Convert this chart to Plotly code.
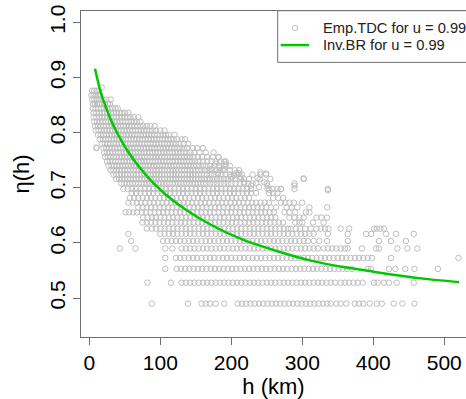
import plotly.graph_objects as go

# ---------------- data ----------------
# Empirical tail dependence coefficient: rows of points at (quantised) eta levels, h in km
emp_levels = [0.882, 0.876, 0.868, 0.860, 0.852, 0.844, 0.836, 0.828, 0.820, 0.812,
              0.804, 0.796, 0.788, 0.780, 0.772, 0.764, 0.756, 0.748, 0.740, 0.732,
              0.724, 0.716, 0.708, 0.698, 0.6906, 0.6817, 0.673, 0.6645, 0.6556, 0.646,
              0.637, 0.626, 0.6165, 0.6036, 0.590, 0.5728, 0.553, 0.528, 0.490]

h_0882 = [17.5]
h_0876 = [4, 7, 10, 13]
h_0868 = [3, 6, 9, 12, 15]
h_0860 = [4, 7, 10, 13, 16, 20, 24, 30]
h_0852 = [5, 8, 11, 14, 18, 22, 26, 29]
h_0844 = [5, 9, 13, 17, 21, 25, 29, 33, 37, 40]
h_0836 = [6, 10, 14, 18, 22, 26, 30, 34, 38, 42, 46, 50, 55]
h_0828 = [6, 10, 14, 18, 22, 26, 30, 34, 38, 42, 46, 50, 54, 58, 63, 69]
h_0820 = [7, 11, 15, 19, 23, 27, 31, 35, 39, 43, 47, 51, 55, 59, 63, 67, 72]
h_0812 = [8, 12, 16, 20, 24, 28, 32, 36, 40, 44, 48, 52, 56, 60, 64, 68, 72, 76, 81, 86, 92]
h_0804 = [9, 13, 17, 21, 25, 29, 33, 37, 41, 45, 49, 53, 57, 61, 65, 69, 73, 77, 81, 85,
          89, 94, 100, 106]
h_0796 = [12, 16, 20, 24, 28, 32, 36, 40, 44, 48, 52, 56, 60, 64, 68, 72, 76, 80, 84, 88,
          92, 96, 100, 104, 108, 112, 120]
h_0788 = [15, 19, 23, 27, 31, 35, 39, 43, 47, 51, 55, 59, 63, 67, 71, 75, 79, 83, 87, 91,
          95, 99, 103, 107, 111, 115, 119, 124, 130, 135]
h_0780 = [18, 22, 26, 30, 34, 38, 42, 46, 50, 54, 58, 62, 66, 70, 74, 78, 82, 86, 90, 94,
          98, 102, 106, 110, 114, 118, 122, 127, 133, 139]
h_0772 = [10, 20, 24, 28, 32, 36, 40, 44, 48, 52, 56, 60, 64, 68, 72, 76, 80, 84, 88, 92,
          96, 100, 104, 108, 112, 116, 120, 124, 128, 133, 138, 146, 152, 160]
h_0764 = [21, 25, 29, 33, 37, 41, 45, 49, 53, 57, 61, 65, 69, 73, 77, 81, 85, 89, 93, 97,
          101, 105, 109, 113, 117, 121, 125, 129, 133, 137, 142, 148, 155, 164, 175]
h_0756 = [22, 26, 30, 34, 38, 42, 46, 50, 54, 58, 62, 66, 70, 74, 78, 82, 86, 90, 94, 98,
          102, 106, 110, 114, 118, 122, 126, 130, 134, 138, 142, 147, 153, 159, 166, 174, 182]
h_0748 = [25, 29, 33, 37, 41, 45, 49, 53, 57, 61, 65, 69, 73, 77, 81, 85, 89, 93, 97, 101,
          105, 109, 113, 117, 121, 125, 129, 133, 137, 141, 145, 149, 154, 160, 166, 172, 178,
          185, 192]
h_0740 = [27, 31, 35, 39, 43, 47, 51, 55, 59, 63, 67, 71, 75, 79, 83, 87, 91, 95, 99, 103,
          107, 111, 115, 119, 123, 127, 131, 135, 139, 143, 147, 151, 155, 160, 165, 170, 176,
          183, 190, 198]
h_0732 = [30, 34, 38, 42, 46, 50, 54, 58, 62, 66, 70, 74, 78, 82, 86, 90, 94, 98, 102, 106,
          110, 114, 118, 122, 126, 130, 134, 138, 142, 146, 150, 154, 158, 163, 168, 173, 178,
          184, 190, 198, 205, 211]
h_0724 = [34, 38, 42, 46, 50, 54, 58, 62, 66, 70, 74, 78, 82, 86, 90, 94, 98, 102, 106, 110,
          114, 118, 122, 126, 130, 134, 138, 142, 146, 150, 154, 158, 162, 166, 171, 176, 181,
          186, 192, 198, 204, 210, 215, 230, 241, 249]
h_0716 = [38, 42, 46, 50, 54, 58, 62, 66, 70, 74, 78, 82, 86, 90, 94, 98, 102, 106, 110, 114,
          118, 122, 126, 130, 134, 138, 142, 146, 150, 154, 158, 162, 166, 170, 175, 180, 185,
          190, 195, 200, 206, 212, 218, 225, 240, 255, 302]
h_0708 = [45, 49, 53, 57, 61, 65, 69, 73, 77, 81, 85, 89, 93, 97, 101, 105, 109, 113, 117,
          121, 125, 129, 133, 137, 141, 145, 149, 153, 157, 161, 165, 170, 175, 180, 185, 190,
          195, 200, 206, 212, 218, 224, 230, 235, 250, 289]
h_0698 = [48, 54, 60, 66, 72, 78, 84, 90, 96, 102, 108, 114, 120, 126, 132, 138, 144, 150,
          156, 162, 168, 174, 180, 186, 192, 198, 204, 210, 216, 222, 228, 251, 258, 265, 270,
          289, 336]
h_0691 = [60, 66, 72, 78, 84, 90, 96, 102, 108, 114, 120, 126, 132, 138, 144, 150, 156, 162,
          168, 174, 180, 186, 192, 198, 204, 210, 216, 222, 228, 235, 253, 259, 265]
h_0682 = [57, 63, 69, 75, 81, 87, 93, 99, 105, 111, 117, 123, 129, 135, 141, 147, 153, 159,
          165, 171, 177, 183, 189, 195, 201, 207, 213, 219, 225, 259, 266, 273]
h_0673 = [55, 61, 67, 73, 79, 85, 91, 97, 103, 109, 115, 121, 127, 133, 139, 145, 151, 157,
          163, 169, 175, 181, 187, 193, 199, 205, 211, 217, 223, 229, 235, 241, 247, 253, 270,
          276, 282, 288, 300]
h_0665 = [69, 75, 81, 87, 93, 99, 105, 111, 117, 123, 129, 135, 141, 147, 153, 159, 165, 171,
          177, 183, 189, 195, 201, 207, 213, 219, 225, 231, 237, 243, 249, 256, 263, 278, 285,
          293, 310, 335]
h_0656 = [51, 56, 62, 67, 74, 80, 86, 92, 98, 104, 110, 116, 122, 128, 134, 140, 146, 152,
          158, 164, 170, 176, 182, 188, 194, 200, 206, 212, 218, 224, 230, 236, 242, 248, 254,
          260, 275, 282, 290, 305, 310]
h_0646 = [76, 82, 88, 94, 100, 106, 112, 118, 124, 130, 136, 142, 148, 154, 160, 166, 172,
          178, 184, 190, 196, 202, 208, 214, 220, 226, 232, 238, 244, 250, 256, 262, 282, 289,
          296, 302, 320, 327, 335]
h_0637 = [75, 81, 87, 93, 99, 105, 111, 117, 123, 129, 135, 141, 147, 153, 159, 165, 171, 177,
          183, 189, 195, 201, 207, 213, 219, 225, 231, 237, 243, 249, 255, 261, 267, 273, 290,
          296, 300, 315, 330]
h_0626 = [81, 88, 94, 100, 106, 112, 118, 124, 130, 136, 142, 148, 154, 160, 166, 172, 178,
          184, 190, 196, 202, 208, 214, 220, 226, 232, 238, 244, 250, 256, 262, 268, 274, 280,
          284, 291, 297, 304, 312, 320, 326, 332, 337, 354, 366, 401, 405, 410, 415]
h_0617 = [55, 100, 106, 112, 118, 124, 130, 136, 142, 148, 154, 160, 166, 172, 178, 184, 190,
          196, 202, 208, 214, 220, 226, 232, 238, 244, 250, 256, 262, 268, 274, 280, 286, 292,
          298, 304, 310, 316, 336, 364, 390, 397, 418, 432, 457]
h_0604 = [59, 104, 110, 116, 122, 128, 134, 140, 146, 152, 158, 164, 170, 176, 182, 188, 194,
          200, 206, 212, 218, 224, 230, 236, 242, 248, 254, 260, 266, 272, 278, 284, 290, 296,
          302, 308, 316, 324, 335, 364, 408, 425, 446]
h_0590 = [43, 65, 107, 117, 130, 136, 142, 148, 154, 160, 166, 172, 178, 184, 190, 196, 202,
          208, 214, 220, 226, 232, 238, 244, 250, 256, 262, 268, 274, 280, 286, 292, 298, 304,
          310, 316, 322, 330, 336, 342, 348, 354, 360, 364, 384, 404, 408, 434, 448, 462]
h_0573 = [107, 122, 128, 134, 140, 146, 152, 158, 164, 170, 176, 182, 188, 194, 200, 206, 212,
          218, 224, 230, 236, 242, 248, 254, 260, 266, 272, 278, 284, 290, 296, 302, 308, 314,
          320, 326, 332, 338, 344, 350, 356, 362, 368, 374, 380, 386, 392, 398, 425, 520]
h_0553 = [107, 123, 129, 135, 141, 147, 153, 159, 165, 171, 177, 183, 189, 195, 201, 207, 213,
          219, 225, 231, 237, 243, 249, 255, 261, 267, 273, 279, 285, 291, 297, 303, 309, 315,
          321, 327, 333, 339, 345, 351, 357, 363, 370, 392, 397, 422, 431, 445, 458, 491]
h_0528 = [82, 115, 130, 136, 142, 148, 154, 160, 166, 172, 178, 184, 190, 196, 202, 208, 214,
          220, 226, 232, 238, 244, 250, 256, 262, 268, 274, 280, 286, 292, 298, 304, 310, 316,
          322, 328, 334, 340, 346, 354, 360, 366, 372, 378, 385, 401, 406, 415, 422, 433, 457]
h_0490 = [88, 139, 158, 164, 170, 178, 190, 209, 215, 221, 227, 233, 239, 245, 251, 257, 263,
          269, 275, 281, 287, 293, 299, 305, 311, 317, 323, 329, 335, 340, 348, 354, 362, 374,
          380, 386, 395, 405, 412, 429, 441, 458]

emp_rows = [h_0882, h_0876, h_0868, h_0860, h_0852, h_0844, h_0836, h_0828, h_0820, h_0812,
            h_0804, h_0796, h_0788, h_0780, h_0772, h_0764, h_0756, h_0748, h_0740, h_0732,
            h_0724, h_0716, h_0708, h_0698, h_0691, h_0682, h_0673, h_0665, h_0656, h_0646,
            h_0637, h_0626, h_0617, h_0604, h_0590, h_0573, h_0553, h_0528, h_0490]

# scattered individual points off the rows
extra_h = [182, 190, 192.5, 178, 171, 183, 188, 181, 207, 211, 214, 204, 200, 218, 228, 237,
           241, 249, 246.5, 251, 239, 253.5, 270, 289, 302, 336, 10]
extra_eta = [0.755, 0.7474, 0.7426, 0.744, 0.7337, 0.7368, 0.7337, 0.7263, 0.7263, 0.7263,
             0.719, 0.722, 0.7202, 0.71, 0.704, 0.7177, 0.728, 0.726, 0.71, 0.704, 0.7013,
             0.6965, 0.698, 0.704, 0.717, 0.6956, 0.773]

# Inverse Brown-Resnick fitted curve
inv_h = [8, 15, 20, 30, 40, 55, 70, 88, 104, 113, 135, 171, 218, 265, 312, 360, 400, 441,
         480, 521]
inv_eta = [0.916, 0.878, 0.858, 0.8245, 0.7976, 0.7649, 0.7382, 0.7117, 0.692, 0.682, 0.661,
           0.633, 0.605, 0.585, 0.568, 0.556, 0.548, 0.540, 0.534, 0.529]

x_ticks = [0, 100, 200, 300, 400, 500]
y_ticks = [0.5, 0.6, 0.7, 0.8, 0.9, 1.0]
y_tick_labels = ["0.5", "0.6", "0.7", "0.8", "0.9", "1.0"]
legend_labels = ["Emp.TDC for u = 0.99", "Inv.BR for u = 0.99"]

# ---------------- build figure ----------------
W, H = 466, 399
ML, MR, MT, MB = 81, 0, 11, 56
PW, PH = W - ML - MR, H - MT - MB

def px_x(p):   # pixel column -> paper x
    return (p - ML) / PW

def px_y(p):   # pixel row -> paper y
    return (H - MB - p) / PH

emp_x, emp_y = [], []
for lev, row in zip(emp_levels, emp_rows):
    emp_x.extend(row)
    emp_y.extend([lev] * len(row))
emp_x.extend(extra_h)
emp_y.extend(extra_eta)

AX = "#6e6e6e"
GRAY = "#BEBEBE"
GREEN = "#00C800"
FONT = "Liberation Sans, Arial, Helvetica, sans-serif"

fig = go.Figure()
fig.add_trace(go.Scatter(
    x=emp_x, y=emp_y, mode="markers", name=legend_labels[0], showlegend=False,
    marker=dict(symbol="circle-open", size=5.5, color=GRAY, line=dict(width=1, color=GRAY)),
))
fig.add_trace(go.Scatter(
    x=inv_h, y=inv_eta, mode="lines", name=legend_labels[1], showlegend=False,
    line=dict(color=GREEN, width=2.5, shape="spline", smoothing=0.6),
))

# legend drawn like R's legend(): box running off the right edge
shapes = [
    dict(type="rect", xref="paper", yref="paper",
         x0=px_x(277.7), x1=px_x(500), y0=px_y(63.3), y1=px_y(10.7),
         line=dict(color=AX, width=1), fillcolor="white", layer="above"),
    dict(type="circle", xref="paper", yref="paper",
         x0=px_x(292.3), x1=px_x(297.7), y0=px_y(31.0), y1=px_y(25.6),
         line=dict(color=GRAY, width=1), layer="above"),
    dict(type="line", xref="paper", yref="paper",
         x0=px_x(280.7), x1=px_x(309), y0=px_y(45.7), y1=px_y(45.7),
         line=dict(color=GREEN, width=2.5), layer="above"),
]
annotations = [
    dict(text=legend_labels[0], xref="paper", yref="paper", x=px_x(320.5), y=px_y(28.3),
         xanchor="left", yanchor="middle", showarrow=False,
         font=dict(size=14.7, color="#222222", family=FONT)),
    dict(text=legend_labels[1], xref="paper", yref="paper", x=px_x(320.5), y=px_y(45.7),
         xanchor="left", yanchor="middle", showarrow=False,
         font=dict(size=14.7, color="#222222", family=FONT)),
]

fig.update_layout(
    width=W, height=H,
    margin=dict(l=ML, r=MR, t=MT, b=MB),
    paper_bgcolor="white", plot_bgcolor="white",
    font=dict(family=FONT, color="black"),
    showlegend=False,
    shapes=shapes, annotations=annotations,
)
fig.update_xaxes(
    range=[-11.7, 530.6], tickmode="array", tickvals=x_ticks,
    ticks="outside", ticklen=7, tickwidth=1, tickcolor=AX,
    showline=True, linecolor=AX, linewidth=1, mirror=True,
    showgrid=False, zeroline=False,
    tickfont=dict(size=21, color="black"),
    title=dict(text="h (km)", font=dict(size=22, color="black"), standoff=9),
)
fig.update_yaxes(
    range=[0.4295, 1.0206], tickmode="array", tickvals=y_ticks, ticktext=y_tick_labels,
    tickangle=-90,
    ticks="outside", ticklen=7, tickwidth=1, tickcolor=AX,
    showline=True, linecolor=AX, linewidth=1, mirror=False,
    showgrid=False, zeroline=False,
    tickfont=dict(size=21, color="black"),
    title=dict(text="η(h)", font=dict(size=22, color="black"), standoff=9),
)

fig.write_html("out.html")
